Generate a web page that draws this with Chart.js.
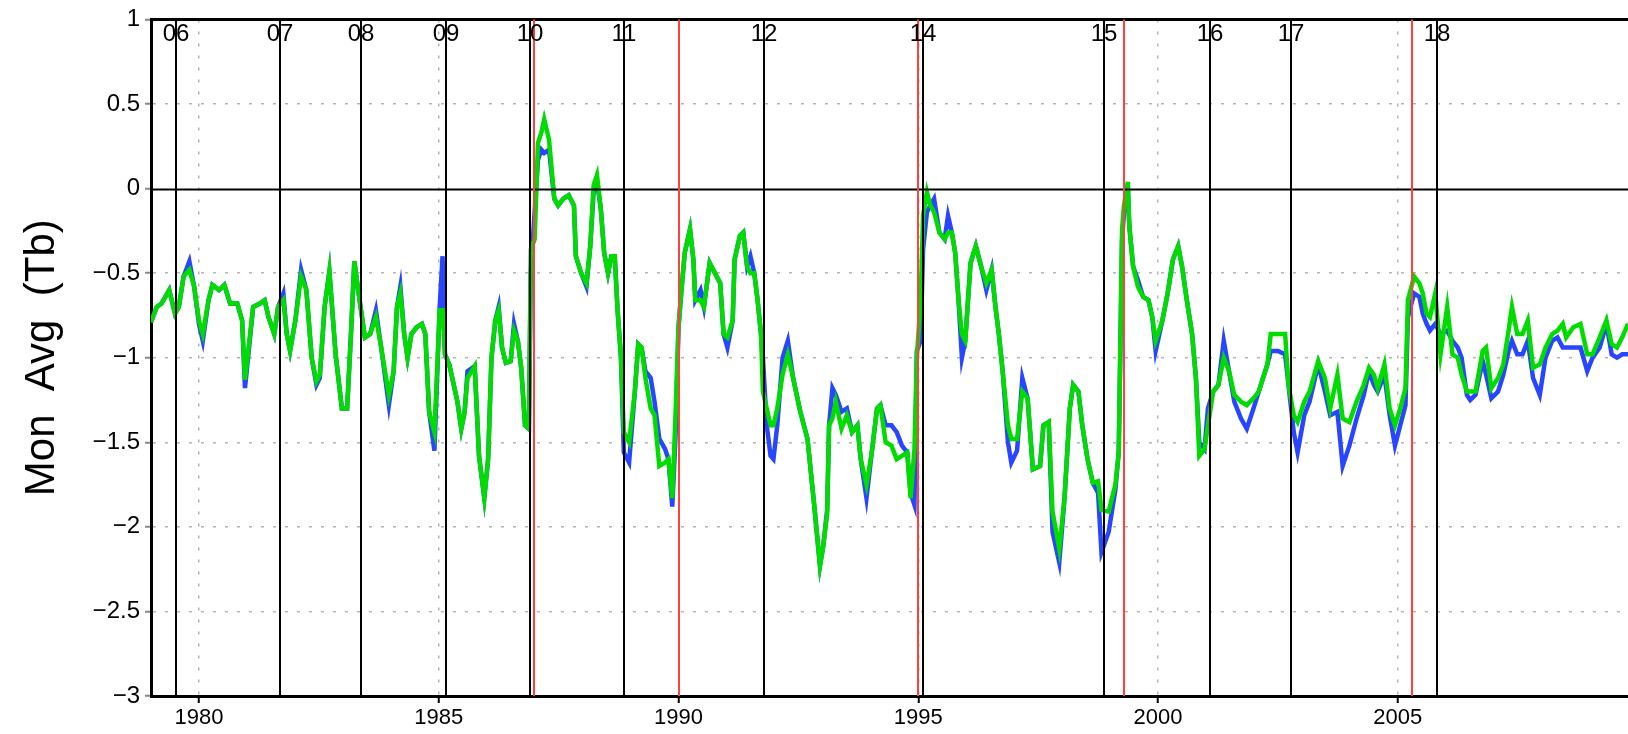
<!DOCTYPE html>
<html>
<head>
<meta charset="utf-8">
<script src="https://cdn.jsdelivr.net/npm/chart.js@4.4.0/dist/chart.umd.min.js"></script>
<style>
body { margin: 0; background: #fff; }
#wrap { width: 1628px; height: 734px; }
</style>
</head>
<body>
<div id="wrap"><canvas id="toile" width="1628" height="734"></canvas></div>
<script>
// decimal year of each reading
const times = [
  1979.00, 1979.12, 1979.22, 1979.38, 1979.50, 1979.58, 1979.68, 1979.80, 1979.90,
  1980.00, 1980.08, 1980.20, 1980.28, 1980.42, 1980.53, 1980.65, 1980.80, 1980.90, 1980.96,
  1981.13, 1981.27, 1981.37, 1981.45, 1981.57, 1981.65, 1981.76, 1981.83, 1981.90,
  1982.01, 1982.13, 1982.24, 1982.35, 1982.45, 1982.52, 1982.62, 1982.72, 1982.85, 1982.98,
  1983.09, 1983.17, 1983.24, 1983.32, 1983.39, 1983.46, 1983.57, 1983.69, 1983.80, 1983.96,
  1984.06, 1984.13, 1984.20, 1984.28, 1984.35, 1984.43, 1984.54, 1984.65, 1984.72, 1984.80, 1984.91,
  1985.02, 1985.08, 1985.13, 1985.22, 1985.39, 1985.47, 1985.54, 1985.60, 1985.75, 1985.84, 1985.95,
  1986.03, 1986.10, 1986.18, 1986.25, 1986.32, 1986.40, 1986.50, 1986.57, 1986.65, 1986.72, 1986.80, 1986.88, 1986.92,
  1987.00, 1987.07, 1987.14, 1987.20, 1987.30, 1987.41, 1987.49, 1987.60, 1987.71, 1987.82, 1987.86, 1987.97,
  1988.08, 1988.16, 1988.23, 1988.30, 1988.38, 1988.45, 1988.53, 1988.60, 1988.67, 1988.73, 1988.80, 1988.86, 1988.97,
  1989.09, 1989.16, 1989.23, 1989.31, 1989.42, 1989.50, 1989.60, 1989.72, 1989.79, 1989.87, 1989.94,
  1990.00, 1990.05, 1990.13, 1990.24, 1990.31, 1990.35, 1990.46, 1990.53, 1990.65, 1990.76, 1990.87, 1990.94,
  1991.02, 1991.13, 1991.17, 1991.28, 1991.35, 1991.43, 1991.50, 1991.58, 1991.65, 1991.72, 1991.76, 1991.84, 1991.92, 1991.98,
  1992.06, 1992.17, 1992.28, 1992.39, 1992.54, 1992.69, 1992.84, 1992.95,
  1993.02, 1993.10, 1993.14, 1993.21, 1993.28, 1993.40, 1993.51, 1993.62, 1993.73, 1993.80, 1993.92,
  1994.03, 1994.14, 1994.21, 1994.32, 1994.44, 1994.55, 1994.66, 1994.77, 1994.84, 1994.92, 1994.97,
  1995.05, 1995.10, 1995.18, 1995.25, 1995.33, 1995.44, 1995.55, 1995.62, 1995.70, 1995.77, 1995.84, 1995.91, 1995.98,
  1996.09, 1996.20, 1996.31, 1996.42, 1996.53, 1996.61, 1996.68, 1996.76, 1996.87, 1996.94,
  1997.06, 1997.17, 1997.28, 1997.39, 1997.54, 1997.61, 1997.72, 1997.80, 1997.94,
  1998.05, 1998.16, 1998.23, 1998.34, 1998.42, 1998.53, 1998.64, 1998.75, 1998.82, 1998.97,
  1999.11, 1999.18, 1999.25, 1999.29, 1999.37, 1999.40, 1999.48, 1999.58, 1999.69, 1999.80, 1999.88, 1999.95,
  2000.09, 2000.20, 2000.31, 2000.42, 2000.50, 2000.60, 2000.71, 2000.79, 2000.86, 2000.97,
  2001.04, 2001.15, 2001.26, 2001.37, 2001.48, 2001.59, 2001.73, 2001.85, 2001.99,
  2002.10, 2002.28, 2002.35, 2002.50, 2002.65, 2002.72, 2002.83, 2002.91,
  2003.05, 2003.16, 2003.34, 2003.48, 2003.59, 2003.74, 2003.85, 2003.99,
  2004.14, 2004.29, 2004.40, 2004.50, 2004.58, 2004.72, 2004.83, 2004.94,
  2005.05, 2005.16, 2005.21, 2005.34, 2005.45, 2005.52, 2005.60, 2005.67, 2005.78, 2005.89,
  2006.03, 2006.14, 2006.25, 2006.33, 2006.44, 2006.51, 2006.62, 2006.77, 2006.84, 2006.95,
  2007.09, 2007.20, 2007.31, 2007.38, 2007.49, 2007.60, 2007.71, 2007.82, 2007.96,
  2008.08, 2008.22, 2008.33, 2008.44, 2008.51, 2008.66, 2008.81, 2008.95,
  2009.06, 2009.21, 2009.35, 2009.46, 2009.57, 2009.68, 2009.80
]

const green = [
  -0.79, -0.70, -0.68, -0.60, -0.74, -0.70, -0.52, -0.48, -0.58,
  -0.78, -0.86, -0.66, -0.57, -0.60, -0.57, -0.68, -0.68, -0.78, -1.13,
  -0.70, -0.68, -0.66, -0.76, -0.86, -0.70, -0.66, -0.86, -0.96,
  -0.78, -0.52, -0.60, -1.00, -1.14, -1.10, -0.70, -0.49, -0.98, -1.30,
  -1.30, -0.86, -0.43, -0.60, -0.74, -0.88, -0.86, -0.76, -0.94, -1.22,
  -1.08, -0.70, -0.62, -0.86, -1.00, -0.86, -0.82, -0.80, -0.86, -1.32, -1.44,
  -0.72, -0.72, -0.98, -1.04, -1.26, -1.42, -1.32, -1.12, -1.05, -1.58, -1.83,
  -1.60, -1.00, -0.78, -0.72, -0.94, -1.03, -1.02, -0.84, -0.90, -1.06, -1.40, -1.42, -0.36,
  -0.30, 0.27, 0.33, 0.41, 0.29, -0.06, -0.10, -0.06, -0.04, -0.10, -0.40, -0.50,
  -0.56, -0.34, 0.02, 0.08, -0.12, -0.38, -0.50, -0.40, -0.40, -0.72, -1.00, -1.44, -1.50,
  -1.20, -0.92, -0.94, -1.12, -1.30, -1.34, -1.64, -1.62, -1.60, -1.83, -1.32,
  -0.82, -0.64, -0.38, -0.24, -0.42, -0.66, -0.66, -0.70, -0.44, -0.50, -0.56, -0.86,
  -0.88, -0.78, -0.42, -0.28, -0.26, -0.46, -0.50, -0.50, -0.66, -0.86, -1.20, -1.30, -1.40, -1.40,
  -1.30, -1.10, -0.98, -1.12, -1.32, -1.48, -1.90, -2.23,
  -2.11, -1.92, -1.40, -1.36, -1.26, -1.42, -1.34, -1.44, -1.40, -1.60, -1.75,
  -1.56, -1.30, -1.28, -1.50, -1.52, -1.60, -1.58, -1.56, -1.83, -1.54, -1.00,
  -0.66, -0.16, -0.02, -0.10, -0.14, -0.26, -0.30, -0.26, -0.26, -0.38, -0.66, -0.86, -0.90,
  -0.44, -0.34, -0.46, -0.56, -0.48, -0.70, -0.86, -1.08, -1.40, -1.48,
  -1.48, -1.20, -1.24, -1.66, -1.64, -1.40, -1.38, -1.91, -2.13,
  -1.83, -1.30, -1.16, -1.20, -1.40, -1.60, -1.74, -1.73, -1.90, -1.91,
  -1.75, -1.56, -0.24, -0.10, 0.04, -0.22, -0.46, -0.58, -0.64, -0.66, -0.76, -0.90,
  -0.78, -0.62, -0.42, -0.34, -0.46, -0.66, -0.86, -1.12, -1.58, -1.54,
  -1.40, -1.20, -1.16, -1.00, -1.08, -1.22, -1.26, -1.28, -1.24,
  -1.20, -1.04, -0.86, -0.86, -0.86, -1.16, -1.34, -1.38,
  -1.26, -1.20, -1.02, -1.12, -1.30, -1.10, -1.36, -1.38,
  -1.26, -1.16, -1.06, -1.10, -1.18, -1.04, -1.30, -1.40,
  -1.30, -1.18, -0.66, -0.52, -0.56, -0.62, -0.74, -0.76, -0.62, -0.98,
  -0.70, -0.98, -1.00, -1.10, -1.20, -1.20, -1.20, -0.96, -0.94, -1.18,
  -1.12, -1.04, -0.84, -0.70, -0.86, -0.86, -0.78, -1.06, -1.04,
  -0.94, -0.86, -0.84, -0.80, -0.88, -0.82, -0.80, -0.98,
  -0.98, -0.88, -0.78, -0.92, -0.94, -0.88, -0.80
]

const blue = [
  -0.79, -0.70, -0.68, -0.60, -0.74, -0.70, -0.52, -0.43, -0.58,
  -0.80, -0.90, -0.66, -0.57, -0.60, -0.57, -0.68, -0.68, -0.78, -1.18,
  -0.70, -0.68, -0.66, -0.76, -0.86, -0.70, -0.62, -0.86, -0.96,
  -0.78, -0.48, -0.60, -1.00, -1.16, -1.12, -0.70, -0.49, -0.98, -1.30,
  -1.30, -0.86, -0.43, -0.60, -0.74, -0.88, -0.86, -0.72, -0.94, -1.28,
  -1.08, -0.70, -0.58, -0.86, -1.00, -0.86, -0.82, -0.80, -0.86, -1.32, -1.55,
  -0.70, -0.40, -0.98, -1.04, -1.26, -1.42, -1.32, -1.08, -1.05, -1.58, -1.83,
  -1.60, -1.00, -0.78, -0.70, -0.94, -1.03, -1.02, -0.80, -0.90, -1.06, -1.40, -1.42, -0.50,
  -0.14, 0.17, 0.23, 0.21, 0.23, -0.06, -0.10, -0.06, -0.04, -0.10, -0.40, -0.50,
  -0.58, -0.34, -0.02, 0.04, -0.12, -0.38, -0.50, -0.40, -0.40, -0.72, -1.00, -1.56, -1.62,
  -1.20, -0.92, -0.94, -1.08, -1.12, -1.26, -1.48, -1.54, -1.60, -1.88, -1.45,
  -0.82, -0.64, -0.38, -0.24, -0.42, -0.66, -0.60, -0.70, -0.44, -0.50, -0.56, -0.86,
  -0.94, -0.78, -0.42, -0.28, -0.26, -0.46, -0.40, -0.50, -0.66, -0.86, -1.00, -1.40, -1.58, -1.60,
  -1.40, -1.00, -0.90, -1.12, -1.32, -1.48, -1.90, -2.23,
  -2.11, -1.90, -1.40, -1.18, -1.22, -1.32, -1.30, -1.44, -1.40, -1.60, -1.83,
  -1.56, -1.30, -1.28, -1.40, -1.40, -1.44, -1.52, -1.56, -1.80, -1.87, -0.96,
  -0.90, -0.36, -0.14, -0.10, -0.06, -0.26, -0.30, -0.16, -0.26, -0.38, -0.66, -1.00, -0.90,
  -0.44, -0.34, -0.46, -0.60, -0.48, -0.70, -0.86, -1.08, -1.50, -1.62,
  -1.55, -1.12, -1.24, -1.66, -1.64, -1.40, -1.38, -2.03, -2.21,
  -1.83, -1.30, -1.16, -1.20, -1.40, -1.60, -1.74, -1.80, -2.15, -2.03,
  -1.78, -1.56, -0.30, -0.14, 0.00, -0.22, -0.46, -0.54, -0.64, -0.66, -0.76, -0.96,
  -0.78, -0.62, -0.42, -0.34, -0.46, -0.66, -0.86, -1.12, -1.50, -1.54,
  -1.30, -1.20, -1.16, -0.90, -1.08, -1.26, -1.36, -1.42, -1.30,
  -1.20, -1.04, -0.96, -0.96, -0.98, -1.16, -1.44, -1.56,
  -1.34, -1.26, -1.04, -1.20, -1.34, -1.32, -1.64, -1.52,
  -1.36, -1.22, -1.08, -1.16, -1.20, -1.10, -1.34, -1.52,
  -1.40, -1.28, -0.76, -0.62, -0.64, -0.74, -0.80, -0.84, -0.80, -0.86,
  -0.84, -0.90, -0.94, -1.00, -1.22, -1.25, -1.22, -1.02, -1.10, -1.24,
  -1.20, -1.10, -0.96, -0.90, -0.98, -0.98, -0.90, -1.12, -1.22,
  -1.00, -0.90, -0.88, -0.94, -0.94, -0.94, -0.94, -1.08,
  -1.00, -0.94, -0.80, -0.98, -1.00, -0.98, -0.98
]

// satellite changes (black) and red markers
const satYears = [1979.52, 1981.68, 1983.37, 1985.16, 1986.91, 1988.87, 1991.78, 1995.10, 1998.88, 2001.09, 2002.78, 2005.82]
const satLabels = ['06', '07', '08', '09', '10', '11', '12', '14', '15', '16', '17', '18']
const redYears = [1986.98, 1990.00, 1995.00, 1999.28, 2005.30]

const xTicks = [1980, 1985, 1990, 1995, 2000, 2005]
const yTicks = [-3, -2.5, -2, -1.5, -1, -0.5, 0, 0.5, 1]

const FONT = 'Liberation Sans'

const marks = {
  id: 'marks',
  afterDatasetsDraw(chart) {
    const {ctx, chartArea: a, scales: {x, y}} = chart
    ctx.save()
    ctx.beginPath()
    ctx.rect(a.left, 0, a.right - a.left, a.bottom)
    ctx.clip()
    // zero line
    const y0 = Math.round(y.getPixelForValue(0)) + 0.5
    ctx.strokeStyle = '#000'
    ctx.lineWidth = 2
    ctx.beginPath()
    ctx.moveTo(a.left, y0)
    ctx.lineTo(a.right, y0)
    ctx.stroke()
    // red lines
    ctx.strokeStyle = '#ff4040'
    for (const r of redYears) {
      const px = Math.round(x.getPixelForValue(r))
      ctx.beginPath()
      ctx.moveTo(px, a.top)
      ctx.lineTo(px, a.bottom)
      ctx.stroke()
    }
    // satellite lines and labels
    ctx.strokeStyle = '#000'
    ctx.fillStyle = '#000'
    ctx.font = `24px "${FONT}"`
    ctx.textAlign = 'center'
    ctx.textBaseline = 'top'
    satYears.forEach((s, i) => {
      const px = Math.round(x.getPixelForValue(s))
      ctx.beginPath()
      ctx.moveTo(px, a.top)
      ctx.lineTo(px, a.bottom)
      ctx.stroke()
      ctx.fillText(satLabels[i], px, a.top + 3)
    })
    ctx.restore()
  }
}

const gridCol = '#b4b4b4'

new Chart(document.getElementById('toile'), {
  type: 'line',
  data: {
    datasets: [
      {
        label: 'green',
        data: times.map((t, i) => ({x: t, y: green[i]})),
        borderColor: 'rgb(0,220,0)',
        borderWidth: 4.5,
        pointRadius: 0,
        tension: 0,
        order: 0
      },
      {
        label: 'blue',
        data: times.map((t, i) => ({x: t, y: blue[i]})),
        borderColor: 'rgb(40,70,255)',
        borderWidth: 4.5,
        pointRadius: 0,
        tension: 0,
        order: 1
      }
    ]
  },
  options: {
    responsive: false,
    animation: false,
    layout: { padding: { top: 17, right: 0, bottom: 0, left: 0 } },
    plugins: { legend: { display: false }, tooltip: { enabled: false } },
    scales: {
      x: {
        type: 'linear',
        position: 'bottom',
        min: 1979,
        max: 2009.8,
        afterBuildTicks: s => { s.ticks = xTicks.map(v => ({value: v})) },
        afterFit: s => { s.height = 38 },
        grid: { color: gridCol, lineWidth: 1.5, tickLength: 7, tickColor: '#000', tickWidth: 2 },
        border: { color: '#000', width: 3, dash: [3, 9] },
        ticks: {
          color: '#000',
          font: { family: FONT, size: 22 },
          padding: 2,
          maxRotation: 0,
          callback: v => String(v)
        }
      },
      xTop: {
        type: 'linear',
        position: 'top',
        min: 1979,
        max: 2009.8,
        afterFit: s => { s.height = 0 },
        grid: { drawOnChartArea: false, drawTicks: false },
        border: { color: '#000', width: 3 },
        ticks: { display: false }
      },
      y: {
        min: -3,
        max: 1,
        afterBuildTicks: s => { s.ticks = yTicks.map(v => ({value: v})) },
        afterFit: s => { s.width = 151 },
        grid: {
          color: c => (c.tick && c.tick.value === 0) ? 'rgba(0,0,0,0)' : gridCol,
          lineWidth: 1.5,
          tickLength: 6,
          tickColor: '#888',
          tickWidth: 2
        },
        border: { color: '#000', width: 3, dash: [3, 9] },
        ticks: {
          color: '#000',
          font: { family: FONT, size: 24 },
          padding: 5,
          callback: v => String(v).replace('-', '\u2212')
        },
        title: {
          display: true,
          text: 'Mon  Avg  (Tb)',
          color: '#000',
          font: { family: FONT, size: 42 },
          padding: { top: 17, bottom: 0 }
        }
      }
    }
  },
  plugins: [marks]
})
</script>
</body>
</html>
